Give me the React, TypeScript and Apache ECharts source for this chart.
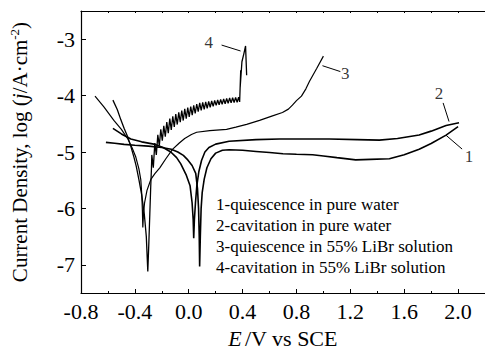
import React, { useEffect, useRef } from "react";
import * as echarts from "echarts";

const FONT = "Liberation Serif";

// E (V vs SCE), log(j / A·cm^-2)
const curve1: number[][] = [
  [-0.615, -4.83], [-0.55, -4.845], [-0.48, -4.865], [-0.4, -4.88], [-0.3, -4.896], [-0.2, -4.92],
  [-0.13, -4.95], [-0.081, -5.0], [-0.04, -5.06], [-0.007, -5.14], [0.025, -5.24], [0.052, -5.38],
  [0.065, -5.65], [0.073, -6.0], [0.078, -6.5], [0.081, -7.03], [0.086, -6.5], [0.092, -6.0],
  [0.1, -5.72], [0.115, -5.48], [0.135, -5.28], [0.165, -5.12], [0.2, -5.02], [0.25, -4.97],
  [0.3, -4.96], [0.4, -4.97], [0.5, -4.99], [0.6, -5.01], [0.7, -5.03], [0.8, -5.04], [0.92, -5.05],
  [1.0, -5.07], [1.1, -5.1], [1.24, -5.14], [1.35, -5.13], [1.49, -5.12], [1.6, -5.05],
  [1.711, -4.95], [1.8, -4.85], [1.911, -4.7], [2.0, -4.55],
];

const curve2: number[][] = [
  [-0.563, -4.58], [-0.5, -4.68], [-0.43, -4.77], [-0.35, -4.82], [-0.259, -4.86], [-0.19, -4.92],
  [-0.133, -5.0], [-0.09, -5.1], [-0.059, -5.21], [-0.02, -5.4], [0.01, -5.6], [0.025, -5.9],
  [0.033, -6.2], [0.037, -6.53], [0.042, -6.2], [0.05, -5.9], [0.06, -5.6], [0.075, -5.35],
  [0.095, -5.15], [0.12, -5.0], [0.15, -4.92], [0.2, -4.86], [0.3, -4.81], [0.5, -4.78],
  [0.674, -4.77], [0.85, -4.77], [1.044, -4.77], [1.25, -4.78], [1.415, -4.79], [1.55, -4.76],
  [1.711, -4.7], [1.8, -4.63], [1.911, -4.53], [2.007, -4.48],
];

const curve3: number[][] = [
  [-0.696, -4.01], [-0.63, -4.2], [-0.556, -4.44], [-0.5, -4.6], [-0.452, -4.77], [-0.42, -4.93],
  [-0.393, -5.09], [-0.37, -5.3], [-0.356, -5.49], [-0.348, -5.78], [-0.344, -6.05], [-0.341, -6.34],
  [-0.336, -6.1], [-0.328, -5.9], [-0.31, -5.68], [-0.28, -5.48], [-0.25, -5.38], [-0.215, -5.28],
  [-0.17, -5.12], [-0.119, -4.95], [-0.07, -4.84], [-0.03, -4.76], [0.02, -4.69], [0.059, -4.65],
  [0.156, -4.62], [0.281, -4.6], [0.35, -4.56], [0.43, -4.51], [0.526, -4.44], [0.622, -4.36],
  [0.696, -4.3], [0.74, -4.24], [0.77, -4.17], [0.8, -4.09], [0.837, -4.01], [0.87, -3.88],
  [0.896, -3.75], [0.95, -3.52], [1.0, -3.3],
];

// cathodic branch, dip, then the oscillating (hatched) anodic band and the final jump
const curve4: number[][] = [
  [-0.563, -4.08], [-0.53, -4.25], [-0.504, -4.43], [-0.48, -4.58], [-0.452, -4.74], [-0.43, -4.9],
  [-0.407, -5.09], [-0.39, -5.25], [-0.37, -5.49], [-0.35, -5.75], [-0.33, -6.1], [-0.315, -6.5],
  [-0.304, -7.12], [-0.296, -6.6], [-0.289, -6.1], [-0.282, -5.6], [-0.277, -5.3],
  [-0.2741, -5.052], [-0.263, -5.278], [-0.2519, -4.843], [-0.2407, -5.052], [-0.2296, -4.696],
  [-0.2185, -4.889], [-0.2074, -4.597], [-0.1963, -4.8], [-0.1852, -4.534], [-0.1741, -4.729],
  [-0.163, -4.471], [-0.1519, -4.666], [-0.1407, -4.409], [-0.1296, -4.609], [-0.1185, -4.367],
  [-0.1074, -4.557], [-0.0963, -4.329], [-0.0852, -4.513], [-0.0741, -4.297], [-0.063, -4.473],
  [-0.0519, -4.266], [-0.0407, -4.442], [-0.0296, -4.235], [-0.0185, -4.41], [-0.0074, -4.214],
  [0.0037, -4.379], [0.0148, -4.193], [0.0259, -4.348], [0.037, -4.172], [0.0481, -4.317],
  [0.0593, -4.151], [0.0704, -4.285], [0.0815, -4.13], [0.0926, -4.261], [0.1037, -4.122],
  [0.1148, -4.243], [0.1259, -4.113], [0.137, -4.226], [0.1481, -4.104], [0.1593, -4.209],
  [0.1704, -4.096], [0.1815, -4.191], [0.1926, -4.087], [0.2037, -4.174], [0.2148, -4.078],
  [0.2259, -4.162], [0.237, -4.07], [0.2481, -4.153], [0.2593, -4.061], [0.2704, -4.144],
  [0.2815, -4.052], [0.2926, -4.136], [0.3037, -4.043], [0.3148, -4.129], [0.3259, -4.038],
  [0.337, -4.122], [0.3481, -4.033], [0.3593, -4.117], [0.3704, -4.028], [0.378, -4.113],
  [0.386, -3.55], [0.382, -3.85], [0.395, -3.4], [0.41, -3.25], [0.422, -3.12], [0.428, -3.5],
  [0.43, -3.64],
];

const legendLabels = [
  "1-quiescence in pure water",
  "2-cavitation in pure water",
  "3-quiescence in 55% LiBr solution",
  "4-cavitation in 55% LiBr solution",
];

const curveNumbers = ["1", "2", "3", "4"];
const numberPos: number[][] = [[2.081, -5.087], [1.859, -3.957], [1.163, -3.609], [0.148, -3.05]];
const arrowFrom: number[][] = [[2.03, -4.948], [1.889, -4.13], [1.126, -3.574], [0.244, -3.104]];
const arrowTo: number[][] = [[1.911, -4.704], [1.933, -4.46], [0.993, -3.47], [0.385, -3.209]];

const xTicks = { min: -0.8, max: 2.2, interval: 0.4 };
const yTicks = { min: -7.5, max: -2.5 };

const serif = (size: number, extra: any = {}) => ({ fontFamily: FONT, fontSize: size, color: "#000", ...extra });

export default function App() {
  const ref = useRef<HTMLDivElement>(null);
  useEffect(() => {
    if (!ref.current) return;
    const chart = echarts.init(ref.current, undefined, { renderer: "svg" });
    const lineSeries = (name: string, data: number[][], width: number) => ({
      name,
      type: "line",
      data,
      showSymbol: false,
      symbol: "none",
      smooth: false,
      lineStyle: { color: "#000", width },
      z: 3,
    });
    chart.setOption({
      animation: false,
      backgroundColor: "#fff",
      textStyle: { fontFamily: FONT },
      grid: { left: 81, right: 0, top: 11, bottom: 56, containLabel: false },
      xAxis: [
        {
          type: "value",
          min: xTicks.min,
          max: xTicks.max,
          interval: xTicks.interval,
          position: "bottom",
          name: "{i|E} {a|/V vs SCE}",
          nameLocation: "middle",
          nameGap: 34,
          nameTextStyle: {
            rich: { a: serif(22), i: serif(22, { fontStyle: "italic" }) },
          },
          axisLine: { show: true, onZero: false, lineStyle: { color: "#000", width: 1.2 } },
          axisTick: { show: true, inside: true, length: 4, lineStyle: { color: "#000" } },
          minorTick: { show: true, splitNumber: 2, length: 2, lineStyle: { color: "#000" } },
          splitLine: { show: false },
          axisLabel: {
            ...serif(22),
            margin: 7,
            showMaxLabel: false,
            rich: { t: serif(22) },
            formatter: (v: number) => (Math.abs(v - 2.2) < 1e-6 ? "" : `{t|${v.toFixed(1)}}`),
          },
        },
        {
          type: "value",
          min: xTicks.min,
          max: xTicks.max,
          interval: 0.2,
          position: "top",
          axisLine: { show: true, onZero: false, lineStyle: { color: "#000", width: 1.2 } },
          axisTick: { show: true, inside: true, length: 2, lineStyle: { color: "#000" } },
          axisLabel: { show: false },
          splitLine: { show: false },
        },
      ],
      yAxis: {
        type: "value",
        min: yTicks.min,
        max: yTicks.max,
        name: "{a|Current Density, log (}{i|j}{a|/A·cm}{s|-2}{a|)}",
        nameLocation: "middle",
        nameRotate: 90,
        nameGap: 49,
        nameTextStyle: {
          rich: {
            a: serif(21),
            i: serif(21, { fontStyle: "italic" }),
            s: serif(13, { padding: [0, 0, 11, 0] }),
          },
        },
        axisLine: { show: true, onZero: false, lineStyle: { color: "#000", width: 1.2 } },
        axisTick: { show: true, inside: true, length: 5, lineStyle: { color: "#000" } },
        splitLine: { show: false },
        axisLabel: {
          ...serif(22),
          margin: 6,
          showMinLabel: false,
          showMaxLabel: false,
          rich: { t: serif(22) },
          formatter: (v: number) => (Number.isInteger(v) ? `{t|${v}}` : ""),
        },
      },
      series: [
        lineSeries("1", curve1, 1.6),
        lineSeries("2", curve2, 1.6),
        lineSeries("3", curve3, 1.2),
        lineSeries("4", curve4, 1.3),
        {
          type: "scatter",
          symbolSize: 0,
          data: curveNumbers.map((n, i) => ({ name: n, value: numberPos[i] })),
          label: {
            show: true,
            position: "inside",
            ...serif(17),
            rich: { t: serif(17) },
            formatter: (p: any) => `{t|${p.name}}`,
          },
          markLine: {
            silent: true,
            symbol: ["none", "arrow"],
            symbolSize: [0, 7],
            label: { show: false },
            lineStyle: { color: "#000", width: 1, type: "solid" },
            data: arrowFrom.map((f, i) => [{ coord: f }, { coord: arrowTo[i] }]),
          },
        },
      ],
      graphic: legendLabels.map((t, i) => ({
        type: "text",
        left: 216,
        top: 196 + i * 21,
        style: { text: t, font: `17px ${FONT}`, fill: "#000" },
      })),
    });
    return () => chart.dispose();
  }, []);
  return (
    <div
      ref={ref}
      style={{ position: "absolute", left: 0, top: 0, width: 485, height: 354, background: "#fff" }}
    />
  );
}
